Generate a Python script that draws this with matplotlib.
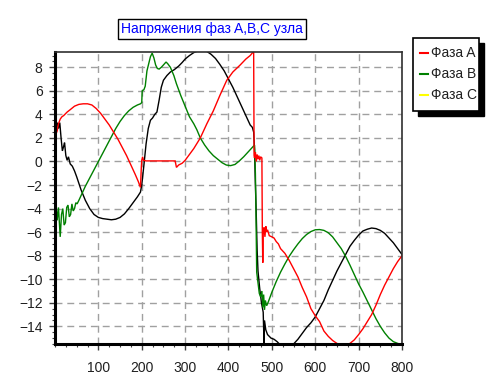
import matplotlib
matplotlib.use("Agg")
import matplotlib.pyplot as plt
from matplotlib.lines import Line2D
from matplotlib.patches import Rectangle
from matplotlib.ticker import MultipleLocator

# ---------------- data ----------------
title_text = "Напряжения фаз A,B,C узла"
labels = ["Фаза A", "Фаза B", "Фаза C"]
legend_colors = ["#ff0000", "#008000", "#ffff00"]
line_colors = ["#ff0000", "#008000", "#000000"]

phase_a_x = [2, 5, 8, 12, 16, 20, 28, 35, 45, 55, 65, 75, 85, 95, 105, 115, 125, 135,
             145, 155, 165, 175, 185, 192, 197, 199, 200, 202, 204, 210, 220, 240, 260,
             277, 280, 285, 293, 300, 310, 320, 335, 350, 365, 380, 396, 410, 427, 440,
             450, 458, 459, 460, 462, 464, 466, 468, 470, 472, 474, 477, 478, 479, 480,
             482, 484, 486, 488, 490, 494, 500, 505, 510, 515, 520, 530, 540, 550, 560,
             570, 580, 590, 600, 610, 620, 630, 640, 650, 660, 670, 680, 690, 700, 710,
             720, 730, 740, 750, 760, 770, 780, 790, 800]
phase_a_y = [2.3, 2.6, 3.2, 3.6, 3.8, 3.9, 4.2, 4.4, 4.7, 4.85, 4.9, 4.9, 4.8, 4.5, 4.1,
             3.6, 3.1, 2.5, 1.9, 1.2, 0.5, -0.3, -1.1, -1.7, -2.2, -0.5, 0.1, 0.4, 0.1,
             0.05, 0.05, 0.05, 0.05, 0.05, -0.5, -0.3, -0.15, 0.1, 0.6, 1.1, 2.0, 3.2,
             4.3, 5.6, 6.9, 7.6, 8.2, 8.7, 9.0, 9.35, 0.5, 0.3, 0.8, 0.0, 0.6, 0.2, 0.5,
             0.1, 0.4, 0.3, -6.0, -8.6, -6.0, -5.6, -6.4, -5.5, -6.0, -5.8, -6.3, -6.4,
             -6.5, -6.8, -7.0, -7.4, -7.8, -8.4, -9.1, -9.8, -10.7, -11.5, -12.5, -13.1,
             -13.6, -14.4, -14.85, -15.2, -15.45, -15.6, -15.6, -15.45, -15.15, -14.7,
             -14.2, -13.6, -13.0, -12.2, -11.3, -10.5, -9.8, -9.1, -8.5, -8.0]

phase_b_x = [1, 3, 5, 8, 12, 15, 18, 21, 24, 27, 30, 33, 36, 39, 42, 45, 48, 51, 55, 60,
             70, 80, 90, 100, 110, 120, 130, 140, 150, 160, 170, 180, 190, 197, 200, 201,
             205, 208, 212, 216, 220, 224, 228, 232, 236, 240, 245, 250, 256, 260, 266,
             274, 280, 290, 300, 310, 320, 327, 335, 345, 355, 365, 375, 385, 395, 405,
             415, 425, 435, 445, 455, 460, 462, 463, 465, 468, 471, 474, 477, 479, 481,
             483, 485, 488, 492, 496, 500, 510, 520, 530, 540, 550, 560, 570, 580, 590,
             600, 610, 620, 630, 640, 650, 660, 670, 680, 690, 700, 710, 720, 730, 740,
             750, 760, 770, 780, 790, 800]
phase_b_y = [-1.8, -4.0, -5.0, -3.9, -6.4, -4.5, -4.0, -5.4, -5.2, -3.9, -3.7, -4.7, -4.5,
             -3.6, -4.2, -4.0, -3.5, -3.6, -3.3, -2.9, -2.1, -1.4, -0.7, 0.0, 0.7, 1.4,
             2.1, 2.8, 3.4, 3.9, 4.3, 4.6, 4.8, 4.9, 5.0, 6.0, 6.1, 6.4, 7.7, 8.3, 8.9,
             9.2, 8.8, 8.2, 7.9, 7.85, 8.0, 8.2, 8.45, 8.3, 8.0, 7.3, 6.6, 5.6, 4.7, 3.8,
             3.2, 2.7, 2.0, 1.4, 0.9, 0.5, 0.2, -0.1, -0.3, -0.35, -0.25, 0.05, 0.4, 0.8,
             1.2, 1.4, -1.0, -3.3, -9.4, -10.3, -11.2, -11.5, -11.0, -12.4, -11.3, -12.6,
             -11.8, -12.25, -11.9, -11.5, -11.1, -10.2, -9.4, -8.7, -8.05, -7.5, -7.0,
             -6.55, -6.2, -5.95, -5.8, -5.78, -5.85, -6.05, -6.4, -6.9, -7.4, -8.05, -8.8,
             -9.6, -10.4, -11.1, -11.85, -12.6, -13.35, -14.0, -14.55, -15.0, -15.3,
             -15.45, -15.55]

phase_c_x = [1, 2, 5, 8, 11, 14, 17, 20, 22, 25, 28, 31, 35, 40, 45, 50, 60, 70, 80, 90,
             100, 110, 120, 130, 140, 150, 160, 170, 180, 190, 197, 200, 205, 210, 215,
             220, 225, 230, 235, 240, 245, 250, 258, 266, 275, 285, 293, 300, 310, 320,
             330, 340, 350, 360, 370, 380, 390, 400, 410, 420, 430, 440, 450, 455, 458,
             460, 462, 464, 466, 468, 472, 476, 480, 482, 483, 486, 490, 498, 505, 512,
             520, 530, 540, 550, 560, 570, 580, 590, 600, 610, 620, 630, 640, 650, 660,
             670, 680, 690, 700, 710, 720, 730, 740, 750, 760, 770, 780, 790, 800]
phase_c_y = [-0.3, 3.0, 3.3, 2.8, 3.3, 2.0, 0.9, 1.3, 1.6, 0.5, 0.1, 0.4, -0.2, -0.4,
             -0.8, -1.3, -2.4, -3.3, -4.0, -4.5, -4.75, -4.85, -4.9, -4.95, -4.9, -4.75,
             -4.45, -4.0, -3.5, -3.0, -2.6, -2.0, -0.3, 1.5, 2.8, 3.5, 3.7, 4.0, 4.2,
             5.2, 6.3, 6.9, 7.3, 7.6, 7.8, 8.1, 8.4, 8.7, 9.0, 9.25, 9.4, 9.45, 9.35,
             9.1, 8.75, 8.25, 7.7, 7.0, 6.3, 5.5, 4.7, 3.9, 3.1, 2.9, 2.5, 1.0, -2.0,
             -4.5, -7.5, -9.3, -10.8, -12.0, -12.8, -15.6, -13.5, -14.3, -14.7, -15.0,
             -15.1, -15.3, -15.6, -15.8, -15.8, -15.5, -15.1, -14.6, -14.1, -13.7, -13.2,
             -12.5, -11.8, -10.9, -10.1, -9.3, -8.6, -7.9, -7.2, -6.7, -6.25, -5.9, -5.75,
             -5.65, -5.7, -5.85, -6.1, -6.5, -6.9, -7.4, -7.9]

x_ticks = [100, 200, 300, 400, 500, 600, 700, 800]
y_ticks = [-14, -12, -10, -8, -6, -4, -2, 0, 2, 4, 6, 8]

# ---------------- figure ----------------
plt.rcParams['font.family'] = ['Liberation Sans', 'DejaVu Sans']
W, H = 487, 386
fig = plt.figure(figsize=(W / 100, H / 100), dpi=100)
fig.patch.set_facecolor("white")

ax = fig.add_axes([55 / W, 1 - 344 / H, (402 - 55) / W, (344 - 52) / H])
ax.set_xlim(0, 800)
ax.set_ylim(-15.5, 9.3)

for xs, ys, c in [(phase_c_x, phase_c_y, line_colors[2]),
                  (phase_b_x, phase_b_y, line_colors[1]),
                  (phase_a_x, phase_a_y, line_colors[0])]:
    ax.plot(xs, ys, color=c, linewidth=1.0, solid_joinstyle="miter")

ax.set_xticks(x_ticks)
ax.set_yticks(y_ticks)
ax.xaxis.set_minor_locator(MultipleLocator(25))
ax.yaxis.set_minor_locator(MultipleLocator(0.5))
ax.grid(True, which="major", color="#a0a0a0", linestyle=(0, (5, 3.5)), linewidth=1.0)
ax.tick_params(axis="both", which="major", direction="out", length=4, width=1,
               labelsize=10, color="#404040")
ax.tick_params(axis="both", which="minor", direction="out", length=2, width=0.8,
               color="#404040")
ax.tick_params(axis="x", which="major", pad=8)
ax.tick_params(axis="y", which="major", pad=5)
for t in ax.get_xticklabels() + ax.get_yticklabels():
    t.set_color("#202020")

for side in ["left", "bottom"]:
    ax.spines[side].set_linewidth(2.2)
    ax.spines[side].set_color("black")
for side in ["top", "right"]:
    ax.spines[side].set_linewidth(1.2)
    ax.spines[side].set_color("#303030")

# ---------------- title box ----------------
fig.text(212 / W, 1 - 29 / H, title_text, ha="center", va="center", fontsize=10,
         color="#0000ff",
         bbox=dict(boxstyle="square,pad=0.25", facecolor="white", edgecolor="black",
                   linewidth=1.0))

# ---------------- legend with black shadow ----------------
px = lambda x: x / W
py = lambda y: 1 - y / H
lx0, lx1, ly0, ly1 = 413, 479, 38, 111
fig.patches.append(Rectangle((px(lx0 + 5), py(ly1 + 5)), (lx1 - lx0) / W, (ly1 - ly0) / H,
                             transform=fig.transFigure, facecolor="black",
                             edgecolor="black", zorder=1))
fig.patches.append(Rectangle((px(lx0), py(ly1)), (lx1 - lx0) / W, (ly1 - ly0) / H,
                             transform=fig.transFigure, facecolor="white",
                             edgecolor="black", linewidth=1.2, zorder=2))
for i, (lab, col) in enumerate(zip(labels, legend_colors)):
    yy = 53 + i * 21
    fig.lines.append(Line2D([px(420), px(428)], [py(yy), py(yy)], color=col,
                            linewidth=1.5, transform=fig.transFigure, zorder=3))
    fig.text(px(431), py(yy), lab, ha="left", va="center", fontsize=10,
             color="#202020", zorder=3)

fig.savefig("out.png", dpi=100)
